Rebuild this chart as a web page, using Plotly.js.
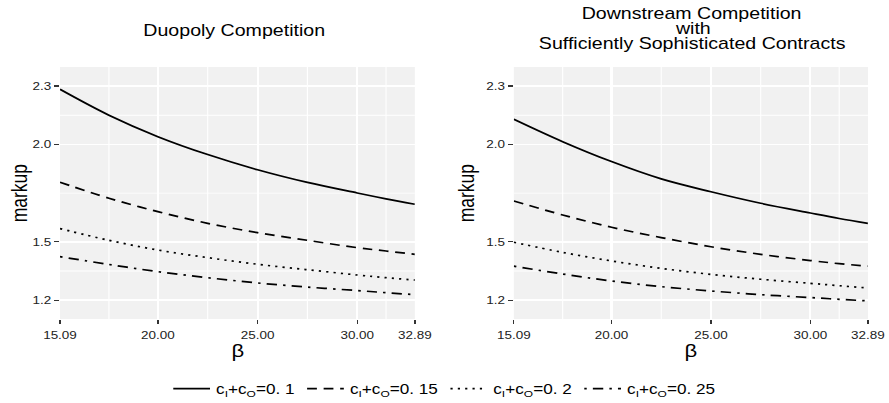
<!DOCTYPE html>
<html>
<head>
<meta charset="utf-8">
<script src="https://cdn.plot.ly/plotly-3.0.1.min.js"></script>
<style>
html,body{margin:0;padding:0;overflow:hidden;background:#fff;}
#wrap{width:889px;height:403px;overflow:hidden;}
#chart{width:726px;height:403px;transform:scaleX(1.22452);transform-origin:0 0;}
</style>
</head>
<body>
<div id="wrap"><div id="chart"></div></div>
<script>
// beta values where the curves were read
const beta = [15.09, 17.545, 20, 22.5, 25, 27.5, 30, 31.445, 32.89];

// Duopoly Competition
const duo_c010 = [2.283, 2.150, 2.040, 1.948, 1.870, 1.805, 1.751, 1.721, 1.693];
const duo_c015 = [1.806, 1.724, 1.655, 1.595, 1.547, 1.508, 1.470, 1.453, 1.436];
const duo_c020 = [1.568, 1.508, 1.458, 1.419, 1.385, 1.357, 1.330, 1.316, 1.304];
const duo_c025 = [1.424, 1.384, 1.347, 1.316, 1.289, 1.268, 1.250, 1.239, 1.229];

// Downstream Competition with Sufficiently Sophisticated Contracts
const ds_c010 = [2.129, 2.014, 1.912, 1.823, 1.757, 1.698, 1.648, 1.620, 1.595];
const ds_c015 = [1.710, 1.638, 1.575, 1.522, 1.475, 1.436, 1.404, 1.388, 1.375];
const ds_c020 = [1.498, 1.446, 1.402, 1.364, 1.333, 1.308, 1.287, 1.275, 1.263];
const ds_c025 = [1.375, 1.335, 1.299, 1.270, 1.248, 1.229, 1.214, 1.205, 1.197];

const seriesNames = [
  'c<sub>I</sub>+c<sub>O</sub>=0. 1',
  'c<sub>I</sub>+c<sub>O</sub>=0. 15',
  'c<sub>I</sub>+c<sub>O</sub>=0. 2',
  'c<sub>I</sub>+c<sub>O</sub>=0. 25'
];
const dashes = ['solid', '8px,5.5px', '1.8px,4.2px', '2px,5px,8.5px,5px'];

const xTickVals = [15.09, 20, 25, 30, 32.89];
const xTickText = ['15.09', '20.00', '25.00', '30.00', '32.89'];
const xMinor = [17.545, 22.5, 27.5, 31.445];
const yTickVals = [1.2, 1.5, 2.0, 2.3];
const yTickText = ['1.2', '1.5', '2.0', '2.3'];
const yMinor = [1.35, 1.75, 2.15];

const panelTitleLeft = 'Duopoly Competition';
const panelTitleRight = ['Downstream Competition', 'with', 'Sufficiently Sophisticated Contracts'];

const FONT = '"Liberation Sans", Arial, Helvetica, sans-serif';

const leftSeries = [duo_c010, duo_c015, duo_c020, duo_c025];
const rightSeries = [ds_c010, ds_c015, ds_c020, ds_c025];

const traces = [];
leftSeries.forEach((ys, i) => {
  traces.push({
    x: beta, y: ys, type: 'scatter', mode: 'lines',
    name: seriesNames[i], legendgroup: 'g' + i, showlegend: true,
    line: {color: '#000000', width: 1.7, dash: dashes[i], shape: 'spline', smoothing: 1},
    xaxis: 'x', yaxis: 'y', hoverinfo: 'skip'
  });
});
rightSeries.forEach((ys, i) => {
  traces.push({
    x: beta, y: ys, type: 'scatter', mode: 'lines',
    name: seriesNames[i], legendgroup: 'g' + i, showlegend: false,
    line: {color: '#000000', width: 1.7, dash: dashes[i], shape: 'spline', smoothing: 1},
    xaxis: 'x2', yaxis: 'y2', hoverinfo: 'skip'
  });
});

const W = 726, H = 403;
const leftDom = [48.98 / W, 338.78 / W];
const rightDom = [419.6 / W, 708.8 / W];
const yDom = [1 - 319 / H, 1 - 67 / H];
const yRange = [1.104, 2.3975];

function xAxis(dom, anchor) {
  return {
    domain: dom, anchor: anchor, range: [15.09, 32.89],
    tickmode: 'array', tickvals: xTickVals, ticktext: xTickText,
    ticks: 'outside', ticklen: 4, tickwidth: 1.1, tickcolor: '#333333',
    ticklabelstandoff: 2,
    tickfont: {family: FONT, size: 11, color: '#222222'},
    showgrid: true, gridcolor: '#ffffff', gridwidth: 1.7,
    minor: {tickmode: 'array', tickvals: xMinor, showgrid: true, gridcolor: '#ffffff', gridwidth: 0.9, ticks: ''},
    zeroline: false, showline: false, fixedrange: true, automargin: false
  };
}
function yAxis(anchor) {
  return {
    domain: yDom, anchor: anchor, range: yRange,
    tickmode: 'array', tickvals: yTickVals, ticktext: yTickText,
    ticks: 'outside', ticklen: 4, tickwidth: 1.1, tickcolor: '#333333',
    tickfont: {family: FONT, size: 11, color: '#222222'},
    showgrid: true, gridcolor: '#ffffff', gridwidth: 1.7,
    minor: {tickmode: 'array', tickvals: yMinor, showgrid: true, gridcolor: '#ffffff', gridwidth: 0.9, ticks: ''},
    zeroline: false, showline: false, fixedrange: true, automargin: false
  };
}

const ann = [];
ann.push({text: panelTitleLeft, x: 235 / 889, y: 1 - 31 / H, xref: 'paper', yref: 'paper',
  xanchor: 'center', yanchor: 'middle', showarrow: false, font: {family: FONT, size: 16, color: '#000'}});
const rightLineY = [13.8, 28.3, 43.3];
panelTitleRight.forEach((t, i) => {
  ann.push({text: t, x: 692 / 889, y: 1 - rightLineY[i] / H, xref: 'paper', yref: 'paper',
    xanchor: 'center', yanchor: 'middle', showarrow: false, font: {family: FONT, size: 16, color: '#000'}});
});
// axis titles
[[20 / 889, 'markup'], [467 / 889, 'markup']].forEach(([x, t]) => {
  ann.push({text: t, x: x, y: 1 - 193 / H, xref: 'paper', yref: 'paper', textangle: -90,
    xanchor: 'center', yanchor: 'middle', showarrow: false, font: {family: FONT, size: 17.5, color: '#000'}});
});
[(leftDom[0] + leftDom[1]) / 2, (rightDom[0] + rightDom[1]) / 2].forEach(x => {
  ann.push({text: 'β', x: x, y: 1 - 351 / H, xref: 'paper', yref: 'paper',
    xanchor: 'center', yanchor: 'middle', showarrow: false, font: {family: FONT, size: 18, color: '#000'}});
});

const layout = {
  width: W, height: H,
  margin: {l: 0, r: 0, t: 0, b: 0, pad: 0, autoexpand: false},
  paper_bgcolor: '#ffffff', plot_bgcolor: '#f1f1f1',
  font: {family: FONT, color: '#000'},
  xaxis: xAxis(leftDom, 'y'),
  yaxis: yAxis('x'),
  xaxis2: xAxis(rightDom, 'y2'),
  yaxis2: yAxis('x2'),
  showlegend: true,
  legend: {orientation: 'h', x: 0.5, xanchor: 'center', y: 1 - 389 / H, yanchor: 'middle',
    font: {family: FONT, size: 14, color: '#000'}, bgcolor: 'rgba(0,0,0,0)', itemwidth: 30,
    itemclick: false, itemdoubleclick: false},
  annotations: ann
};

Plotly.newPlot('chart', traces, layout, {displayModeBar: false, staticPlot: true});
</script>
</body>
</html>
